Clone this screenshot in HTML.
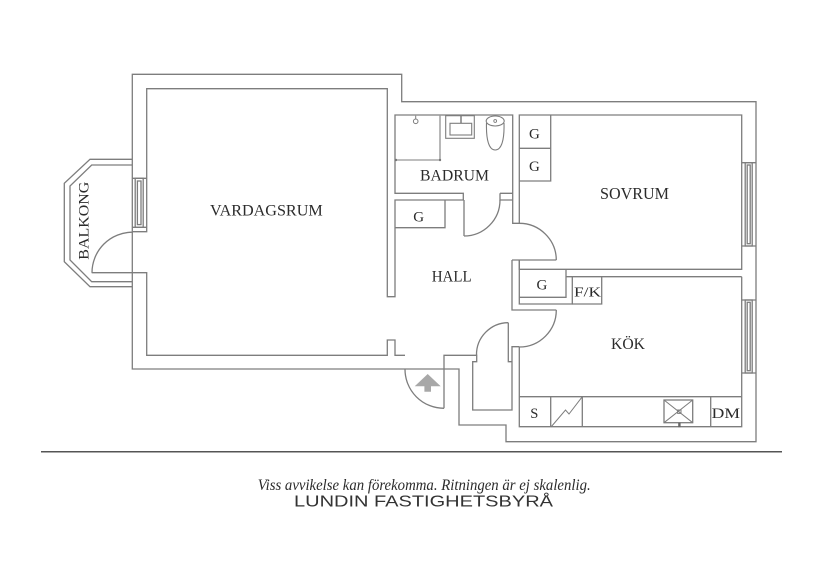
<!DOCTYPE html>
<html><head><meta charset="utf-8"><style>
html,body{margin:0;padding:0;background:#fff;width:820px;height:580px;overflow:hidden}
svg{display:block}
.w{fill:none;stroke:#7d7d7d;stroke-width:1.3;stroke-linejoin:miter}
.t{font-family:"Liberation Serif",serif;fill:#2b2b2b}
</style></head><body>
<svg width="820" height="580" viewBox="0 0 820 580" xmlns="http://www.w3.org/2000/svg">
<rect width="820" height="580" fill="#fff"/>
<g class="w">
<!-- outer boundary -->
<path d="M132.3,74.3 H401.7 V101.7 H756 V441.7 H506 V425 H459 V369 H132.3 Z"/>
<!-- balcony -->
<path d="M132.3,159.3 H90 L64.3,183.3 V261.7 L90,286.7 H132.3"/>
<path d="M132.3,165 H91.7 L70,186 V260 L91.7,281.7 H132.3"/>
<path d="M92,272.7 A40.5,40.5 0 0 1 132.3,232.2"/>
<!-- living room window -->
<path d="M132.3,178.3 H146.7 M132.3,227.3 H146.7"/>
<rect x="135.2" y="178.3" width="8" height="49"/>
<rect x="137.4" y="181" width="3.6" height="43.6"/>
<!-- living room inner -->
<path d="M132.3,231.7 H146.7 V88.7 H387.3 V296.7 H395 V200 H464"/>
<path d="M91.7,272.7 H146.7 V355.3 H387.3 V340 H395 V355.3 H405"/>
<!-- entrance door -->
<path d="M405,369 A39,39 0 0 0 444,408.3"/>
<path d="M444,408.3 V355.3 H476.7 V361.7 H472.7 V410 H512 V346.7 H519.3"/>
<!-- closet door -->
<path d="M512,361.7 H508.3 V322.7"/>
<path d="M508.3,322.7 A32,32 0 0 0 476.5,355.3"/>
<!-- hall G box -->
<path d="M445,200 V227.7 H395"/>
<!-- bathroom -->
<path d="M463.3,200 V193.3 H395 V115 H512.7 V223.3 H519.3 V115 H741.7 V269.3 H519.3 V260"/>
<path d="M500,193.3 H512.7 M500,193.3 V200 H512.7"/>
<path d="M464,200 V236"/>
<path d="M464,236 A36,36 0 0 0 500,200"/>
<!-- sovrum door -->
<path d="M519.3,223.3 A37,37 0 0 1 556.3,260"/>
<path d="M512,260 H556.3"/>
<path d="M512,260 V310 H556.3"/>
<!-- kitchen door -->
<path d="M556.3,310 A37,37 0 0 1 519.3,347"/>
<!-- G/F/K boxes -->
<path d="M519.3,260 V304 H572.3 V276.7"/>
<path d="M519.3,297.3 H566 V269.3"/>
<path d="M566,276.7 H741.7"/>
<path d="M572.3,304 H601.7 V276.7"/>
<!-- kitchen -->
<path d="M519.3,346.7 V426.7 H741.7 V276.7"/>
<path d="M519.3,396.7 H741.7 M550.7,396.7 V426.7 M582.3,396.7 V426.7 M710.7,396.7 V426.7"/>
<path d="M551,427 L565.5,410 L569,414 L582.3,396.7" stroke-width="1"/>
<rect x="664" y="400" width="28.7" height="22.7"/>
<path d="M664,400 L692.7,422.7 M692.7,400 L664,422.7" stroke-width="1"/>
<rect x="677.6" y="410" width="3.4" height="3.4" stroke-width="1"/>
<!-- sovrum G boxes -->
<path d="M550.7,115 V181 H519.3 M519.3,148.3 H550.7"/>
<!-- right windows -->
<path d="M741.7,162.7 H756 M741.7,246 H756"/>
<rect x="745.2" y="162.7" width="7" height="83.3"/>
<rect x="747.2" y="165" width="3" height="78.7"/>
<path d="M741.7,300 H756 M741.7,373 H756"/>
<rect x="745.2" y="300" width="7" height="73"/>
<rect x="747.2" y="302.3" width="3" height="68.4"/>
<!-- bathroom fixtures -->
<path d="M440,115.7 V160 H395" stroke-width="1.1"/>
<path d="M415.7,115.7 V119" stroke-width="1"/>
<circle cx="415.7" cy="121.3" r="2.3" stroke-width="1"/>
<rect x="445.7" y="115.7" width="28.6" height="22.6" stroke-width="1.1"/>
<rect x="450" y="123.3" width="21.7" height="11.7" stroke-width="1.1"/>
<path d="M461,116 V123" stroke-width="1.5"/>
<path d="M486.5,123 C486,140 489,150 495.2,150 C501.5,150 504.5,140 504,123" stroke-width="1.1"/>
<ellipse cx="495.2" cy="121" rx="9" ry="5" stroke-width="1.1" fill="#fff"/>
<circle cx="495.2" cy="121" r="1.4" stroke-width="0.9"/>
</g>
<circle cx="396" cy="160" r="1.2" fill="#777"/>
<circle cx="440" cy="160" r="1.2" fill="#777"/>
<rect x="678.2" y="422.7" width="2.4" height="4.5" fill="#666"/>
<!-- entrance arrow -->
<path d="M427.7,374 L440.7,386.3 L431,386.3 L431,391.7 L424.4,391.7 L424.4,386.3 L414.7,386.3 Z" fill="#a8a8a8"/>
<!-- separator -->
<line x1="41" y1="451.7" x2="782" y2="451.7" stroke="#555" stroke-width="1.5"/>
<!-- labels -->
<g class="t">
<text x="210" y="215.7" font-size="16" textLength="112.7" lengthAdjust="spacingAndGlyphs">VARDAGSRUM</text>
<text x="420" y="180.7" font-size="16" textLength="69" lengthAdjust="spacingAndGlyphs">BADRUM</text>
<text x="600" y="199" font-size="16.5" textLength="69" lengthAdjust="spacingAndGlyphs">SOVRUM</text>
<text x="431.7" y="281.7" font-size="16" textLength="40" lengthAdjust="spacingAndGlyphs">HALL</text>
<text x="611" y="349" font-size="16" textLength="34" lengthAdjust="spacingAndGlyphs">KÖK</text>
<text x="413.3" y="221.5" font-size="15">G</text>
<text x="529" y="138.5" font-size="15">G</text>
<text x="529" y="170.8" font-size="15">G</text>
<text x="536.5" y="289.5" font-size="15">G</text>
<text x="574" y="296.3" font-size="14" textLength="27" lengthAdjust="spacingAndGlyphs">F/K</text>
<text x="530.3" y="417.8" font-size="14.5">S</text>
<text x="711.7" y="417.8" font-size="14.5" textLength="28.3" lengthAdjust="spacingAndGlyphs">DM</text>
<text transform="translate(88.3,220.7) rotate(-90)" text-anchor="middle" font-size="15" textLength="78" lengthAdjust="spacingAndGlyphs">BALKONG</text>
<text x="257.7" y="490" font-size="16" font-style="italic" textLength="333" lengthAdjust="spacingAndGlyphs">Viss avvikelse kan förekomma. Ritningen är ej skalenlig.</text>
<text x="294" y="506.7" font-size="16" textLength="259" lengthAdjust="spacingAndGlyphs" style="font-family:'Liberation Sans',sans-serif" fill="#333">LUNDIN FASTIGHETSBYRÅ</text>
</g>
</svg>
</body></html>
